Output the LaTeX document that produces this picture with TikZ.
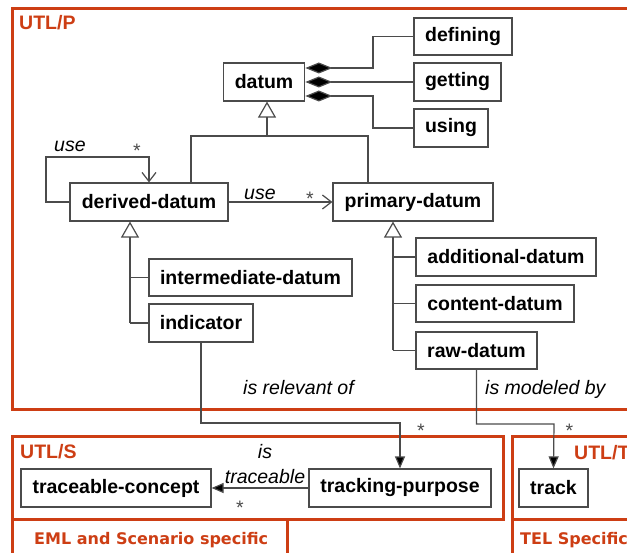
\documentclass[tikz,border=0pt]{standalone}
\usepackage{fontspec}
\setmainfont{Liberation Sans}
\newfontfamily\dejavu{DejaVu Sans}
\usetikzlibrary{arrows.meta}
\definecolor{frameor}{RGB}{205,62,20}
\definecolor{lgray}{RGB}{75,75,75}
\begin{document}
\begin{tikzpicture}[x=1pt,y=-1pt,
  cls/.style={draw=lgray, line width=1.2pt, fill=white, text=black,
    font=\fontsize{19.5}{23}\selectfont\bfseries, minimum height=38pt,
    inner xsep=2pt, inner ysep=0pt},
  lbl/.style={font=\fontsize{19.5}{23}\selectfont\itshape, inner sep=0pt},
  star/.style={font=\fontsize{19.5}{23}\selectfont, inner sep=0pt, text=lgray},
  ttl/.style={font=\fontsize{19.5}{23}\selectfont\bfseries, text=frameor, inner sep=0pt},
  ttl2/.style={font=\dejavu\fontsize{16}{19}\selectfont\bfseries, text=frameor, inner sep=0pt},
  frame/.style={draw=frameor, line width=3pt},
  conn/.style={draw=lgray, line width=1.2pt},
  gen/.style={conn, -{Triangle[open, length=16pt, width=18pt, fill=white]}},
  usearr/.style={conn, -{Straight Barb[length=9pt, width=14pt]}},
  fillarr/.style={conn, -{Triangle[length=12pt, width=10pt, fill=black]}},
  comp/.style={conn, {Diamond[length=27pt, width=11pt, fill=black]}-}
]
\useasboundingbox (0,0) rectangle (627,553);
\clip (0,0) rectangle (627,553);

% frames
\draw[frame] (12.5,8.5) rectangle (650,410);
\draw[frame] (12.5,437) rectangle (503,519);
\draw[frame] (12.5,519) rectangle (287,580);
\draw[frame] (512,437) rectangle (650,519);
\draw[frame] (512,519) rectangle (650,580);
\node[ttl, anchor=base west] (tP) at (19,30) {UTL/P};
\node[ttl, anchor=base west] (tS) at (20,458) {UTL/S};
\node[ttl, anchor=base west] (tT) at (574,459) {UTL/T};
\node[ttl2, anchor=base west] (tE) at (34,544) {EML and Scenario specific};
\node[ttl2, anchor=base west] (tL) at (520,544) {TEL Specific};

% classes
\node[cls, minimum width=81.5pt] (datum) at (264,82) {datum};
\node[cls, minimum width=98pt, minimum height=37pt] (defining) at (463,36.5) {defining};
\node[cls, minimum width=87pt] (getting) at (457.5,82) {getting};
\node[cls, minimum width=74pt] (using) at (451,128) {using};
\node[cls, minimum width=158pt] (derived) at (149,202) {derived-datum};
\node[cls, minimum width=160pt] (primary) at (413,202) {primary-datum};
\node[cls, minimum width=203pt, minimum height=37pt] (inter) at (250.5,277.5) {intermediate-datum};
\node[cls, minimum width=104pt] (indicator) at (201,323) {indicator};
\node[cls, minimum width=180pt] (additional) at (506,257) {additional-datum};
\node[cls, minimum width=158pt, minimum height=37pt] (content) at (495,303.5) {content-datum};
\node[cls, minimum width=121pt, minimum height=37pt] (raw) at (476.5,350.5) {raw-datum};
\node[cls, minimum width=182pt] (tracking) at (400,488) {tracking-purpose};
\node[cls, minimum width=69pt] (track) at (553.5,488) {track};
\node[cls, minimum width=190pt] (traceable) at (116,488) {traceable-concept};

% compositions
\coordinate (cb) at (373,82);
\draw[comp] ([yshift=14pt]datum.east) -| (cb |- defining.west) -- (defining.west);
\draw[comp] (datum.east) -- (getting.west);
\draw[comp] ([yshift=-14pt]datum.east) -| (cb |- using.west) -- (using.west);

% generalization datum
\coordinate (gd) at (267,136);
\coordinate (jL) at (191,136);
\coordinate (jR) at (368,136);
\draw[conn] (derived.north -| jL) -- (jL) -- (jR) -- (primary.north -| jR);
\draw[gen] (gd) -- (gd |- datum.south);

% generalization derived
\coordinate (dT) at (130,323);
\draw[conn] (dT |- inter.west) -- (inter.west);
\draw[conn] (dT) -- (indicator.west);
\draw[gen] (dT) -- (dT |- derived.south);

% generalization primary
\coordinate (pT) at (393,350.5);
\draw[conn] (pT |- additional.west) -- (additional.west);
\draw[conn] (pT |- content.west) -- (content.west);
\draw[conn] (pT) -- (raw.west);
\draw[gen] (pT) -- (pT |- primary.south);

% use associations
\coordinate (lp) at (46,157);
\draw[usearr] (derived.west) -| (lp) -| (derived.north);
\node[lbl, anchor=base west] (u1) at (54,152) {use};
\node[star] (s1) at (137,151) {*};
\draw[usearr] (derived.east) -- (primary.west);
\node[lbl, anchor=base west] (u2) at (244,200) {use};
\node[star] (s2) at (310,199) {*};

% cross-package
\coordinate (tb) at (400,423);
\draw[fillarr] (indicator.south) |- (tb) -- (tracking.north);
\node[lbl, anchor=base west] (rel) at (243,395) {is relevant of};
\node[star] (s3) at (421,431) {*};
\coordinate (rb) at (554,424);
\draw[fillarr] (raw.south) |- (rb) -- (track.north);
\node[lbl, anchor=base west] (mod) at (485,395) {is modeled by};
\node[star] (s4) at (569.5,431) {*};

\draw[fillarr] (tracking.west) -- (traceable.east);
\node[lbl, anchor=base] (is) at (265,458) {is};
\node[lbl, anchor=base] (trc) at (265,483) {traceable};
\node[star] (s5) at (240,508) {*};
\end{tikzpicture}
\end{document}
